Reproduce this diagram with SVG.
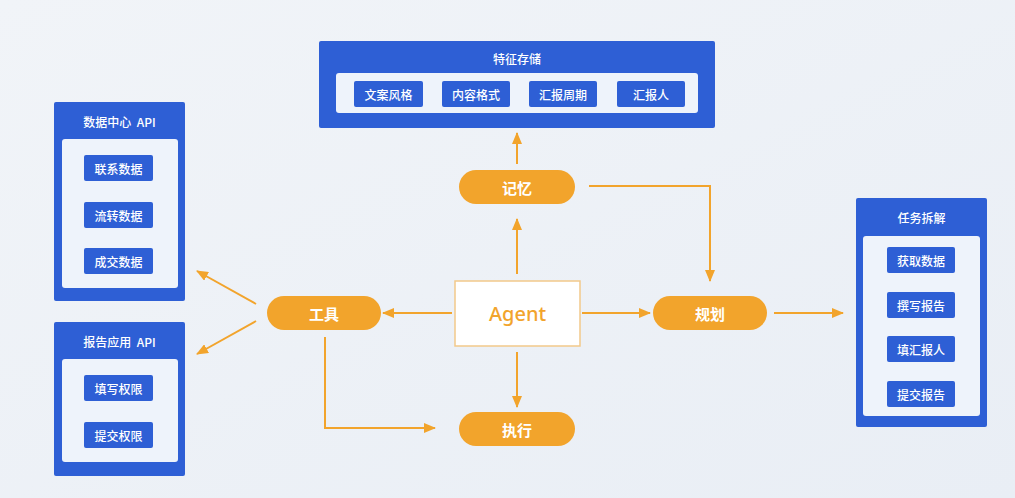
<svg xmlns="http://www.w3.org/2000/svg" width="1015" height="498" viewBox="0 0 1015 498">
<defs>
<marker id="ah" viewBox="0 0 12 10" refX="11" refY="5" markerWidth="6" markerHeight="5" markerUnits="strokeWidth" orient="auto">
<path d="M0,0 L12,5 L0,10 Z" fill="#f2a42c"/>
</marker>
<linearGradient id="bg" x1="0" y1="0" x2="1" y2="1">
<stop offset="0" stop-color="#f1f4f8"/>
<stop offset="1" stop-color="#e9eef5"/>
</linearGradient>
</defs>
<style>
.outer{fill:#2e5fd5;}
.panel{fill:#eef3fb;}
.item{fill:#2e5fd5;}
.t{font-family:"Noto Sans CJK SC","Noto Sans",sans-serif;fill:#fff;text-anchor:middle;dominant-baseline:central;}
.title{font-size:12px;font-weight:500;}
.it{font-size:12px;font-weight:500;}
.pill{fill:#f2a42c;}
.pt{font-size:15px;font-weight:bold;}
.c{fill:none;stroke:#f2a42c;stroke-width:2;marker-end:url(#ah);}
</style>
<rect width="1015" height="498" fill="url(#bg)"/>

<g id="feature-store">
<rect class="outer" x="319" y="41" width="396" height="87" rx="2"/>
<text class="t title" x="517" y="58">特征存储</text>
<rect class="panel" x="336" y="73" width="362" height="40" rx="3"/>
<rect class="item" x="354" y="81" width="69" height="26" rx="2"/>
<text class="t it" x="388.5" y="94">文案风格</text>
<rect class="item" x="442" y="81" width="68" height="26" rx="2"/>
<text class="t it" x="476" y="94">内容格式</text>
<rect class="item" x="529" y="81" width="68" height="26" rx="2"/>
<text class="t it" x="563" y="94">汇报周期</text>
<rect class="item" x="617" y="81" width="68" height="26" rx="2"/>
<text class="t it" x="651" y="94">汇报人</text>
</g>

<g id="data-api">
<rect class="outer" x="54" y="102" width="131" height="199" rx="2"/>
<text class="t title" x="119.5" y="121" xml:space="preserve">数据中心  API</text>
<rect class="panel" x="62" y="139" width="116" height="149" rx="3"/>
<rect class="item" x="84" y="155" width="69" height="26" rx="2"/>
<text class="t it" x="118.5" y="168">联系数据</text>
<rect class="item" x="84" y="202" width="69" height="26" rx="2"/>
<text class="t it" x="118.5" y="215">流转数据</text>
<rect class="item" x="84" y="248" width="69" height="26" rx="2"/>
<text class="t it" x="118.5" y="261">成交数据</text>
</g>

<g id="report-api">
<rect class="outer" x="54" y="322" width="131" height="154" rx="2"/>
<text class="t title" x="119.5" y="341" xml:space="preserve">报告应用  API</text>
<rect class="panel" x="62" y="359" width="116" height="103" rx="3"/>
<rect class="item" x="84" y="375" width="69" height="26" rx="2"/>
<text class="t it" x="118.5" y="388">填写权限</text>
<rect class="item" x="84" y="422" width="69" height="26" rx="2"/>
<text class="t it" x="118.5" y="435">提交权限</text>
</g>

<g id="task-breakdown">
<rect class="outer" x="856" y="198" width="131" height="229" rx="2"/>
<text class="t title" x="921.5" y="217">任务拆解</text>
<rect class="panel" x="863" y="236" width="117" height="180" rx="3"/>
<rect class="item" x="887" y="247" width="68" height="26" rx="2"/>
<text class="t it" x="921" y="260">获取数据</text>
<rect class="item" x="887" y="292" width="68" height="26" rx="2"/>
<text class="t it" x="921" y="305">撰写报告</text>
<rect class="item" x="887" y="336" width="68" height="26" rx="2"/>
<text class="t it" x="921" y="349">填汇报人</text>
<rect class="item" x="887" y="381" width="68" height="26" rx="2"/>
<text class="t it" x="921" y="394">提交报告</text>
</g>

<g id="memory">
<rect class="pill" x="459" y="170" width="116" height="34" rx="17"/>
<text class="t pt" x="517" y="187">记忆</text>
</g>

<g id="agent">
<rect x="455" y="281" width="125" height="65" fill="#fff" stroke="#f2c98a" stroke-width="1.5"/>
<text x="517.5" y="313.5" font-family="'Noto Sans','Open Sans',sans-serif" font-size="20" font-weight="500" fill="#f2a42c" text-anchor="middle" dominant-baseline="central">Agent</text>
</g>

<g id="tools">
<rect class="pill" x="267" y="296" width="114" height="34" rx="17"/>
<text class="t pt" x="324" y="313">工具</text>
</g>

<g id="plan">
<rect class="pill" x="653" y="296" width="114" height="34" rx="17"/>
<text class="t pt" x="710" y="313">规划</text>
</g>

<g id="execute">
<rect class="pill" x="459" y="412" width="116" height="34" rx="17"/>
<text class="t pt" x="517" y="429">执行</text>
</g>

<g id="connectors">
<path class="c" d="M517,164 L517,133"/>
<path class="c" d="M517,274 L517,219"/>
<path class="c" d="M589,186 L710,186 L710,281"/>
<path class="c" d="M452,313 L383,313"/>
<path class="c" d="M582,313 L650,313"/>
<path class="c" d="M774,313 L843,313"/>
<path class="c" d="M517,352 L517,407"/>
<path class="c" d="M256,304 L197,271"/>
<path class="c" d="M256,321 L197,354"/>
<path class="c" d="M325,337 L325,428 L435,428"/>
</g>
</svg>
